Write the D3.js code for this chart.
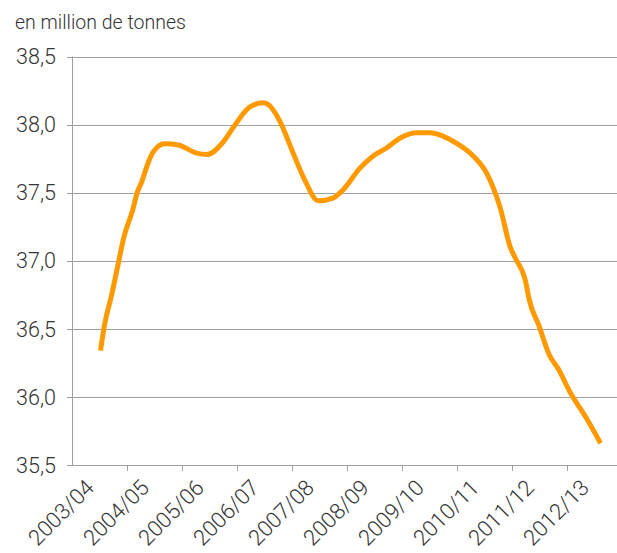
<!DOCTYPE html>
<html lang="fr">
<head>
<meta charset="UTF-8">
<title>en million de tonnes</title>
<script src="https://d3js.org/d3.v7.min.js"></script>
<style>
  body { margin: 0; background: #fff; }
  svg { display: block; font-family: Roboto, "Open Sans", sans-serif; font-weight: 300; }
  text { fill: #333; }
</style>
</head>
<body>
<div id="chart"></div>
<script>
  // campagnes (axe des x)
  const categories = ["2003/04", "2004/05", "2005/06", "2006/07", "2007/08",
                      "2008/09", "2009/10", "2010/11", "2011/12", "2012/13"];
  const yTicks = [35.5, 36.0, 36.5, 37.0, 37.5, 38.0, 38.5];

  // mois depuis le début de 2003/04, et valeurs
  const months = [6, 7, 8.3, 10, 11, 13, 14, 15, 16.4, 17.5, 20, 23, 27, 29.2,
                  32.7, 35, 38.6, 41.5, 42.5, 45.2, 47.8, 50.6, 53.5, 56.7, 58.9,
                  62.6, 65.5, 68.5, 71.3, 75.1, 77.9, 83.8, 87.3, 90.3, 93.2, 95.4,
                  96.5, 98.8, 99.5, 101.7, 103.9, 106, 108.2, 111.9, 115.1];
  const values = [36.34, 36.55, 36.73, 37.00, 37.16, 37.37, 37.50, 37.58, 37.72, 37.80,
                  37.86, 37.85, 37.79, 37.78, 37.87, 37.98, 38.13, 38.16, 38.15, 38.02,
                  37.81, 37.59, 37.44, 37.46, 37.52, 37.68, 37.77, 37.83, 37.90, 37.94,
                  37.94, 37.86, 37.77, 37.64, 37.39, 37.10, 37.02, 36.84, 36.72, 36.52,
                  36.31, 36.20, 36.05, 35.85, 35.66];

  const width = 617, height = 553;
  const margin = {top: 56.5, left: 73, bottom: 465};
  const plotRight = 623;

  const svg = d3.select("#chart").append("svg")
    .attr("width", width)
    .attr("height", height);

  const x = d3.scaleBand()
    .domain(categories)
    .range([margin.left, plotRight]);

  const xMonth = d3.scaleLinear()
    .domain([0, categories.length * 12])
    .range([margin.left, plotRight]);

  const y = d3.scaleLinear()
    .domain([35.5, 38.5])
    .range([margin.bottom, margin.top]);

  const fmt = d => d3.format(".1f")(d).replace(".", ",");

  // titre
  svg.append("text")
    .attr("x", 15)
    .attr("y", 29)
    .attr("font-size", 19.5)
    .text("en million de tonnes");

  // grille horizontale + graduations y
  const grid = svg.append("g");
  grid.selectAll("line")
    .data(yTicks)
    .join("line")
    .attr("x1", margin.left - 6)
    .attr("x2", width)
    .attr("y1", d => Math.round(y(d)) + 0.5)
    .attr("y2", d => Math.round(y(d)) + 0.5)
    .attr("stroke", "#a0a0a0")
    .attr("stroke-width", 1);

  grid.selectAll("text")
    .data(yTicks)
    .join("text")
    .attr("x", 56)
    .attr("y", d => y(d))
    .attr("dy", "0.36em")
    .attr("text-anchor", "end")
    .attr("font-size", 21.5)
    .text(fmt);

  // axe vertical
  svg.append("line")
    .attr("x1", margin.left - 0.5)
    .attr("x2", margin.left - 0.5)
    .attr("y1", margin.top)
    .attr("y2", Math.round(margin.bottom) + 0.5)
    .attr("stroke", "#a0a0a0");

  // graduations x
  const xt = svg.append("g");
  xt.selectAll("line")
    .data(categories.slice(1))
    .join("line")
    .attr("x1", d => Math.round(x(d)) - 0.5)
    .attr("x2", d => Math.round(x(d)) - 0.5)
    .attr("y1", Math.round(margin.bottom))
    .attr("y2", Math.round(margin.bottom) + 6)
    .attr("stroke", "#a0a0a0");

  xt.selectAll("text")
    .data(categories)
    .join("text")
    .attr("text-anchor", "end")
    .attr("font-size", 22)
    .attr("transform", d =>
      `translate(${x(d) + x.bandwidth() / 2 - 5},${margin.bottom + 24}) rotate(-45)`)
    .text(d => d);

  // courbe
  const line = d3.line()
    .x((d, i) => xMonth(months[i]))
    .y(d => y(d))
    .curve(d3.curveMonotoneX);

  svg.append("path")
    .datum(values)
    .attr("fill", "none")
    .attr("stroke", "#ff9900")
    .attr("stroke-width", 5)
    .attr("stroke-linejoin", "round")
    .attr("d", line);
</script>
</body>
</html>
